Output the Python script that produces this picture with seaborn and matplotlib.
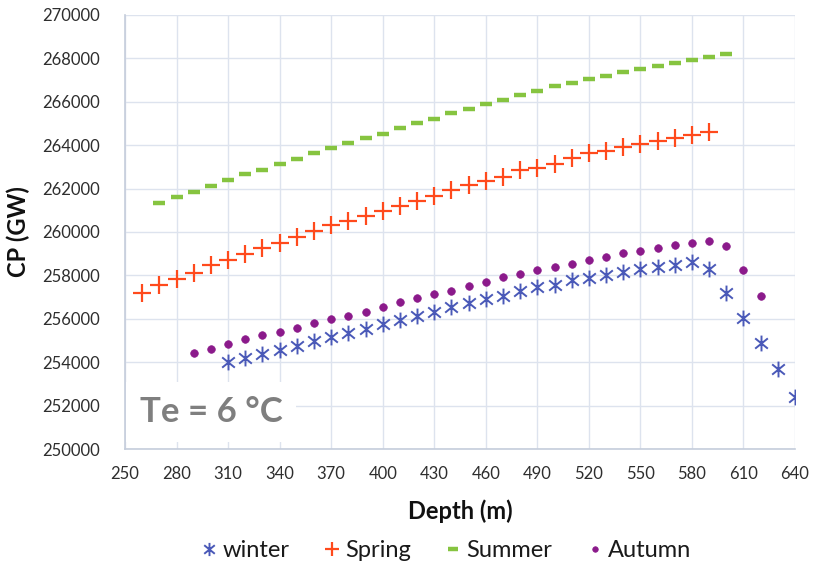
import numpy as np
import pandas as pd
import matplotlib
matplotlib.use("Agg")
import matplotlib.pyplot as plt
from matplotlib.path import Path
import seaborn as sns

# Depth grids (m) for each season
depth_winter = list(range(310, 641, 10))
depth_spring = list(range(260, 591, 10))
depth_summer = list(range(270, 601, 10))
depth_autumn = list(range(290, 621, 10))

# Capacity (GW) per depth
cp_winter = [253990, 254210, 254360, 254560, 254760, 254980, 255180, 255360, 255530, 255770,
             255950, 256140, 256330, 256530, 256710, 256900, 257070, 257280, 257450, 257560,
             257770, 257890, 258020, 258170, 258300, 258400, 258480, 258630, 258280, 257200,
             256050, 254870, 253670, 252410]
cp_spring = [257200, 257560, 257850, 258110, 258460, 258710, 258990, 259260, 259480, 259760,
             260030, 260310, 260500, 260740, 260970, 261200, 261440, 261670, 261930, 262150,
             262360, 262550, 262840, 262960, 263130, 263430, 263630, 263750, 263930, 264060,
             264190, 264330, 264480, 264610]
cp_summer = [261320, 261630, 261840, 262120, 262400, 262670, 262870, 263150, 263350, 263630,
             263870, 264120, 264320, 264530, 264790, 265010, 265210, 265480, 265680, 265900,
             266100, 266300, 266510, 266730, 266850, 267050, 267190, 267390, 267530, 267670,
             267800, 267940, 268080, 268220]
cp_autumn = [254410, 254620, 254830, 255060, 255240, 255390, 255590, 255790, 255990, 256140,
             256330, 256550, 256760, 256960, 257160, 257300, 257500, 257710, 257910, 258050,
             258250, 258390, 258530, 258720, 258860, 259020, 259140, 259280, 259420, 259490,
             259600, 259360, 258250, 257070]

x_ticks = list(range(250, 641, 30))
y_ticks = list(range(250000, 270001, 2000))

# Asterisk marker: a vertical stroke crossed by an X
asterisk = Path(
    [(0, -1), (0, 1), (-0.8, -0.65), (0.8, 0.65), (-0.8, 0.65), (0.8, -0.65)],
    [Path.MOVETO, Path.LINETO, Path.MOVETO, Path.LINETO, Path.MOVETO, Path.LINETO],
)

sns.set_theme(style="whitegrid")
plt.rcParams["font.family"] = ["Lato", "DejaVu Sans"]

fig = plt.figure(figsize=(8.15, 5.68), dpi=100)
ax = fig.add_axes([0.1534, 0.2095, 0.8221, 0.7641])

series = [
    ("winter", depth_winter, cp_winter, "#4a59b8", asterisk, 130, 1.4, 9.5),
    ("Spring", depth_spring, cp_spring, "#ff4a1c", "+", 150, 1.6, 10),
    ("Summer", depth_summer, cp_summer, "#86c440", "_", 80, 3.2, 7.5),
    ("Autumn", depth_autumn, cp_autumn, "#8b1a8b", "o", 30, 0.5, 4),
]

handles = []
for name, xs, ys, col, mk, size, lw, leg_ms in series:
    df = pd.DataFrame({"Depth": xs, "CP": ys})
    sns.scatterplot(data=df, x="Depth", y="CP", ax=ax, color=col, marker=mk,
                    s=size, linewidth=lw, edgecolor=col,
                    legend=False, zorder=3)
    handles.append(plt.Line2D([], [], linestyle="", marker=mk, color=col,
                              markerfacecolor=col, markeredgecolor=col,
                              markersize=leg_ms, markeredgewidth=lw, label=name))

ax.set_xlim(250, 640)
ax.set_ylim(250000, 270000)
ax.set_xticks(x_ticks)
ax.set_yticks(y_ticks)
ax.grid(True, color="#dde3ee", linewidth=1.0)
ax.set_axisbelow(True)
for side in ["top", "right"]:
    ax.spines[side].set_visible(False)
for side in ["left", "bottom"]:
    ax.spines[side].set_color("#c5cddb")
    ax.spines[side].set_linewidth(1.2)

ax.tick_params(axis="both", length=0, labelsize=12, colors="#2e2e2e")
ax.tick_params(axis="y", pad=18)
ax.tick_params(axis="x", pad=12)

ax.set_xlabel("Depth (m)", fontsize=17, fontweight="bold", color="#111111")
ax.set_ylabel("CP (GW)", fontsize=17, fontweight="bold", color="#111111")
ax.xaxis.set_label_coords(0.5, -0.115)
ax.yaxis.set_label_coords(-0.142, 0.5)

ax.text(0.022, 0.085, "Te = 6 °C", transform=ax.transAxes, fontsize=25,
        fontweight="bold", color="#7f7f7f", va="center", ha="left", zorder=4,
        bbox=dict(boxstyle="square,pad=0.4", facecolor="white", edgecolor="none"))

fig.legend(handles=handles, loc="center", bbox_to_anchor=(0.545, 0.03), ncol=4,
           frameon=False, fontsize=17, handletextpad=0.05, columnspacing=1.3,
           handlelength=1.0, labelcolor="#1a1a1a")

fig.savefig("out.png", dpi=100, facecolor="white")
